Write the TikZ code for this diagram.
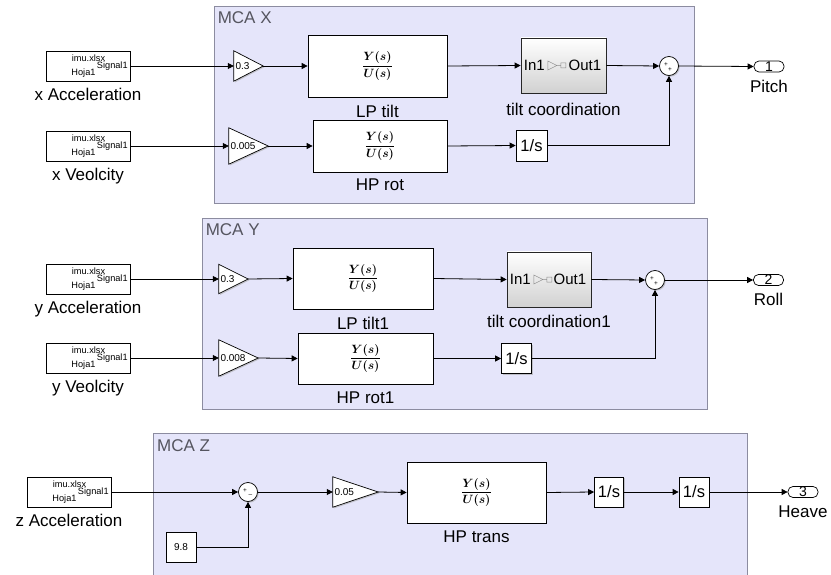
\documentclass[tikz,border=0pt]{standalone}
\usepackage{fontspec}
\setmainfont{Liberation Sans}
\usepackage{bm}
\usetikzlibrary{shadows,arrows.meta,calc}
\definecolor{mcafill}{RGB}{229,229,250}
\definecolor{mcaedge}{RGB}{140,140,160}
\definecolor{mcatitle}{RGB}{85,85,95}
\newcommand\bigf{\fontsize{17}{20}\selectfont}
\newcommand\TFtxt{\fontsize{12}{13}\selectfont$\displaystyle\frac{\bm{Y(s)}}{\bm{U(s)}}$}
\tikzset{
  wire/.style={line width=0.8pt,-{Triangle[length=6pt,width=6pt]}},
  shad/.style={drop shadow={shadow xshift=1.2pt,shadow yshift=-1.2pt,fill=black!35,opacity=0.6}},
  blk/.style={draw,line width=0.7pt,fill=white,inner sep=0pt,shad},
  group/.style={fill=mcafill,draw=mcaedge,line width=0.8pt,inner sep=0pt},
  grouptitle/.style={font=\bigf,text=mcatitle,inner sep=0pt,text height=12.2pt,text depth=0pt},
  lbl/.style={font=\bigf,inner sep=0pt,text height=12.2pt,text depth=3.5pt},
  tinyf/.style={font=\fontsize{9.2}{10}\selectfont,inner sep=0pt},
  gaintxt/.style={font=\fontsize{10}{11}\selectfont,inner sep=0pt},
  gaintri/.style={draw,line width=0.7pt,fill=white,shad},
  intf/.style={font=\fontsize{16.5}{18}\selectfont},
  midf/.style={font=\fontsize{15}{17}\selectfont,inner sep=0pt},
  tcbox/.style={draw=black!85,line width=0.7pt,top color=white,bottom color=black!18,inner sep=0pt,shad},
  sumblk/.style={circle,draw,line width=0.7pt,fill=white,minimum size=19pt,inner sep=0pt,shad},
  signf/.style={font=\fontsize{6.5}{7}\selectfont,inner sep=0pt},
  portbox/.style={draw,line width=0.7pt,rounded corners=5pt,minimum width=30pt,minimum height=11pt,inner sep=0pt,fill=white},
  portnum/.style={font=\fontsize{14}{14}\selectfont,inner sep=0pt},
}
\newcommand\srcblk[4]{%
  \node[blk,minimum width=84pt,minimum height=30pt,label={[lbl,label distance=7pt]below:#4}] (#1) at (#2,#3) {};
  \node[tinyf] (#1-a) at ([xshift=0.5pt,yshift=8pt]#1.center) {imu.xlsx};
  \node[tinyf] (#1-b) at ([xshift=-4.5pt,yshift=-7.5pt]#1.center) {Hoja1};
  \node[tinyf,anchor=east] (#1-c) at ([xshift=-2.5pt,yshift=0pt]#1.east) {Signal1};
}
\newcommand\gainblk[6]{%
  \node[inner sep=0pt,minimum width=#4,minimum height=#5] (#1) at (#2,#3) {};
  \draw[gaintri] (#1.north west) -- (#1.east) -- (#1.south west) -- cycle;
  \node[gaintxt,anchor=west] (#1-t) at ([xshift=1.5pt]#1.west) {#6};
}
\newcommand\tiltblk[6]{%
  \node[tcbox,minimum width=#4,minimum height=55pt,label={[lbl,label distance=#6]below:#5}] (#1) at (#2,#3) {};
  \node[midf,anchor=west] (#1-i) at ([xshift=3pt]#1.west) {In1};
  \node[midf,anchor=east] (#1-o) at ([xshift=-5pt]#1.east) {Out1};
  \draw[black!45,line width=0.5pt] ([xshift=3pt,yshift=4.5pt]#1-i.east) -- ([xshift=12pt]#1-i.east) -- ([xshift=3pt,yshift=-4.5pt]#1-i.east) -- cycle
     ([xshift=12pt]#1-i.east) -- ([xshift=16pt]#1-i.east)
     ([xshift=16pt,yshift=-2.5pt]#1-i.east) rectangle ([xshift=21pt,yshift=2.5pt]#1-i.east);
}
\begin{document}
\begin{tikzpicture}[x=1pt,y=-1pt]
\useasboundingbox (0,0) rectangle (831,575);
% ---------- groups ----------
\node[group,minimum width=480pt,minimum height=197pt] (mcax) at (454,104.5) {};
\node[grouptitle,anchor=north west] (mcax-t) at ([xshift=4pt,yshift=-6pt]mcax.north west) {MCA X};
\node[group,minimum width=505pt,minimum height=191pt] (mcay) at (454.5,313.5) {};
\node[grouptitle,anchor=north west] (mcay-t) at ([xshift=4pt,yshift=-6pt]mcay.north west) {MCA Y};
\fill[mcafill] (153,433) rectangle (747,575);
\draw[mcaedge,line width=0.8pt] (153,575) |- (747,433) -- (747,575);
\coordinate (mcaz) at (153,433);
\node[grouptitle,anchor=north west] (mcaz-t) at ([xshift=4pt,yshift=-6pt]mcaz) {MCA Z};
% ---------- MCA X ----------
\srcblk{sxa}{88}{66}{x Acceleration}
\srcblk{sxv}{88}{146}{x Veolcity}
\gainblk{gx1}{248.5}{66}{29pt}{30pt}{0.3}
\gainblk{gx2}{248.5}{146}{39pt}{36pt}{0.005}
\node[blk,minimum width=139pt,minimum height=62pt,label={[lbl,label distance=8pt]below:LP tilt}] (lpx) at (377.5,66) {\TFtxt};
\node[blk,minimum width=134pt,minimum height=52pt,label={[lbl,label distance=6pt]below:HP rot}] (hpx) at (380,146) {\TFtxt};
\tiltblk{tcx}{563.5}{65.5}{85pt}{tilt coordination}{10pt}
\node[blk,intf,minimum size=31pt] (ix) at (531.5,145.5) {1/s};
\node[sumblk] (sx) at (669,66) {};
\node[signf] (sx-p1) at ([xshift=-3pt,yshift=1pt]sx.center) {+};
\node[signf] (sx-p2) at ([xshift=1pt,yshift=-4pt]sx.center) {+};
\node[portbox,label={[lbl,label distance=8pt]below:Pitch}] (px) at (769,66.5) {};
\node[portnum] (px-n) at (px.center) {1};
\draw[wire] (sxa.east) -- (gx1.west);
\draw[wire] (gx1.east) -- (lpx.west);
\draw[wire] (lpx.east) -- (tcx.west);
\draw[wire] (tcx.east) -- (sx.west);
\draw[wire] (sx.east) -- (px.west);
\draw[wire] (sxv.east) -- (gx2.west);
\draw[wire] (gx2.east) -- (hpx.west);
\draw[wire] (hpx.east) -- (ix.west);
\draw[wire] (ix.east) -| (sx.south);
% ---------- MCA Y ----------
\srcblk{sya}{88}{279}{y Acceleration}
\srcblk{syv}{88}{358}{y Veolcity}
\gainblk{gy1}{233.5}{279}{29pt}{29pt}{0.3}
\gainblk{gy2}{238.5}{358}{39pt}{36pt}{0.008}
\node[blk,minimum width=140pt,minimum height=61pt,label={[lbl,label distance=8pt]below:LP tilt1}] (lpy) at (363,278.5) {\TFtxt};
\node[blk,minimum width=135pt,minimum height=51pt,label={[lbl,label distance=7pt]below:HP rot1}] (hpy) at (365.5,358.5) {\TFtxt};
\tiltblk{tcy}{549}{279.5}{84pt}{tilt coordination1}{8pt}
\node[blk,intf,minimum size=30pt] (iy) at (516.5,358.5) {1/s};
\node[sumblk] (sy) at (655,280) {};
\node[signf] (sy-p1) at ([xshift=-3pt,yshift=1pt]sy.center) {+};
\node[signf] (sy-p2) at ([xshift=1pt,yshift=-4pt]sy.center) {+};
\node[portbox,label={[lbl,label distance=7.5pt]below:Roll}] (py) at (768.5,280) {};
\node[portnum] (py-n) at (py.center) {2};
\draw[wire] (sya.east) -- (gy1.west);
\draw[wire] (gy1.east) -- (lpy.west);
\draw[wire] (lpy.east) -- (tcy.west);
\draw[wire] (tcy.east) -- (sy.west);
\draw[wire] (sy.east) -- (py.west);
\draw[wire] (syv.east) -- (gy2.west);
\draw[wire] (gy2.east) -- (hpy.west);
\draw[wire] (hpy.east) -- (iy.west);
\draw[wire] (iy.east) -| (sy.south);
% ---------- MCA Z ----------
\srcblk{sza}{69}{492}{z Acceleration}
\node[sumblk] (sz) at (248,492) {};
\node[signf] (sz-p1) at ([xshift=-3pt,yshift=1.5pt]sz.center) {+};
\node[signf] (sz-p2) at ([xshift=2.5pt,yshift=-3.5pt]sz.center) {\textendash};
\node[blk,gaintxt,minimum size=30pt] (cz) at (181,547) {9.8};
\gainblk{gz}{355.5}{492}{45pt}{30pt}{0.05}
\node[blk,minimum width=139pt,minimum height=61pt,label={[lbl,label distance=7pt]below:HP trans}] (hpz) at (476.5,492.5) {\TFtxt};
\node[blk,intf,minimum width=29pt,minimum height=30pt] (iz1) at (609,492) {1/s};
\node[blk,intf,minimum size=30pt] (iz2) at (694,492) {1/s};
\node[portbox,label={[lbl,label distance=7.5pt]below:Heave}] (pz) at (803,492) {};
\node[portnum] (pz-n) at (pz.center) {3};
\draw[wire] (sza.east) -- (sz.west);
\draw[wire] (cz.east) -| (sz.south);
\draw[wire] (sz.east) -- (gz.west);
\draw[wire] (gz.east) -- (hpz.west);
\draw[wire] (hpz.east) -- (iz1.west);
\draw[wire] (iz1.east) -- (iz2.west);
\draw[wire] (iz2.east) -- (pz.west);
\end{tikzpicture}
\end{document}
